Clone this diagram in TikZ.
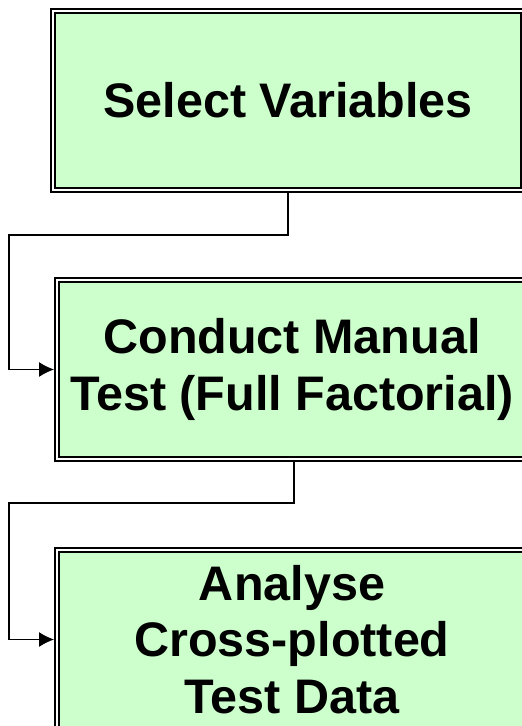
\documentclass[tikz,border=0pt]{standalone}
\usepackage{fontspec}
\setmainfont{Liberation Sans}
\usetikzlibrary{positioning,arrows.meta}
\definecolor{boxgreen}{HTML}{CCFFCC}
\begin{document}
\begin{tikzpicture}[x=1pt,y=1pt,
				stepbox/.style={draw=black,line width=2.3pt,double=white,double distance=1.4pt,fill=boxgreen,
					minimum width=470pt,minimum height=179pt,outer sep=3pt,inner sep=0pt,align=center,
					font=\fontsize{48.5}{56.5}\selectfont\bfseries},
				link/.style={line width=1.2pt,-{Latex[length=15pt,width=15pt]}}]
				\useasboundingbox (0,0) rectangle (522,726);
				\node (SEL)  [stepbox] at (288,625.5)                 {Select Variables};
				\node (COND) [stepbox,below=84pt of SEL,xshift=4pt]   {Conduct Manual\\Test (Full Factorial)};
				\node (ANA)  [stepbox,below=85pt of COND]             {Analyse\\Cross-plotted\\Test Data};
				
				\draw[link] (SEL.south) -- ++(0,-42) -| ([xshift=-45pt]COND.west) -- (COND.west);
				\draw[link] ([xshift=2pt]COND.south) -- ++(0,-41) -| ([xshift=-45pt]ANA.west) -- (ANA.west);
			\end{tikzpicture}
\end{document}
